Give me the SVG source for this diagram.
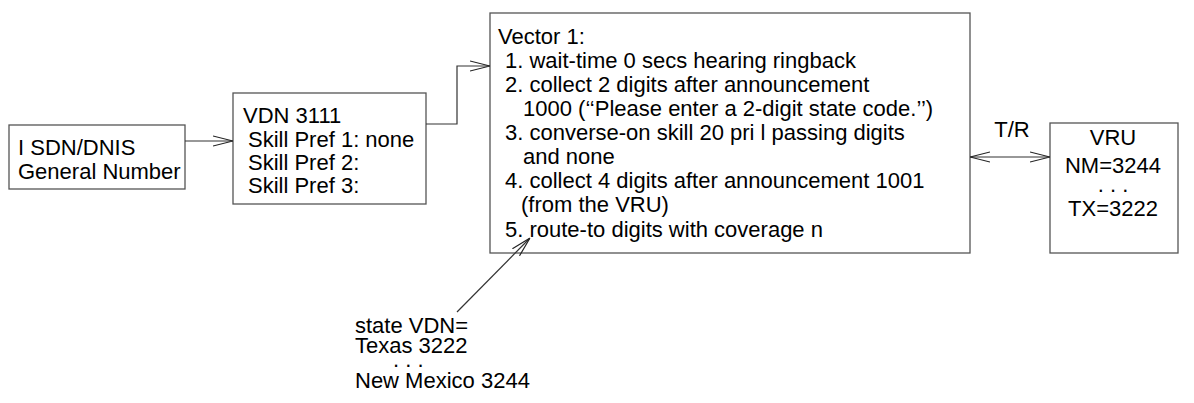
<svg xmlns="http://www.w3.org/2000/svg" width="1194" height="403" viewBox="0 0 1194 403">
<style>
  .box { fill: #ffffff; stroke: #555555; stroke-width: 1.3; }
  .t { font-family: "Liberation Sans", Arial, sans-serif; font-size: 22px; fill: #000000; }
  .c { fill: none; stroke: #333333; stroke-width: 1.2; }
  .ah { fill: none; stroke: #222222; stroke-width: 1.2; }
</style>
<defs>
  <marker id="open" viewBox="0 0 20 12" refX="20" refY="6" markerWidth="20" markerHeight="12" markerUnits="userSpaceOnUse" orient="auto-start-reverse">
    <path d="M0,1 L20,6 L0,11" fill="none" stroke="#222222" stroke-width="1.2"/>
  </marker>
</defs>
<rect width="1194" height="403" fill="#ffffff"/>

<g id="node-isdn">
  <rect class="box" x="9" y="125" width="176" height="64"/>
  <text class="t" x="18" y="155">I SDN/DNIS</text>
  <text class="t" x="18" y="179">General Number</text>
</g>

<g id="node-vdn">
  <rect class="box" x="233" y="93" width="193" height="111"/>
  <text class="t" x="243" y="123">VDN 3111</text>
  <text class="t" x="248" y="147">Skill Pref 1: none</text>
  <text class="t" x="248" y="170">Skill Pref 2:</text>
  <text class="t" x="248" y="193">Skill Pref 3:</text>
</g>

<g id="node-vector">
  <rect class="box" x="490" y="13" width="480" height="240"/>
  <text class="t" x="498" y="44">Vector 1:</text>
  <text class="t" x="505" y="68">1. wait-time 0 secs hearing ringback</text>
  <text class="t" x="505" y="92">2. collect 2 digits after announcement</text>
  <text class="t" x="523" y="116">1000 (‘‘Please enter a 2-digit state code.’’)</text>
  <text class="t" x="505" y="140">3. converse-on skill 20 pri l passing digits</text>
  <text class="t" x="523" y="164">and none</text>
  <text class="t" x="505" y="188">4. collect 4 digits after announcement 1001</text>
  <text class="t" x="521" y="212">(from the VRU)</text>
  <text class="t" x="505" y="237">5. route-to digits with coverage n</text>
</g>

<g id="node-vru">
  <rect class="box" x="1050" y="123" width="128" height="130"/>
  <text class="t" x="1113" y="145" text-anchor="middle">VRU</text>
  <text class="t" x="1113" y="173" text-anchor="middle">NM=3244</text>
  <text class="t" x="1113" y="192" text-anchor="middle">. . .</text>
  <text class="t" x="1113" y="216" text-anchor="middle">TX=3222</text>
</g>

<g id="note-state">
  <text class="t" x="355" y="333">state VDN=</text>
  <text class="t" x="355" y="353">Texas 3222</text>
  <text class="t" x="393" y="367">. . .</text>
  <text class="t" x="355" y="388">New Mexico 3244</text>
</g>

<g id="connectors">
  <line class="c" x1="185" y1="141" x2="233" y2="141" marker-end="url(#open)"/>
  <polyline class="c" points="426,124 457,124 457,66 490,66" marker-end="url(#open)"/>
  <line class="c" x1="970" y1="157" x2="1050" y2="157" marker-start="url(#open)" marker-end="url(#open)"/>
  <text class="t" x="1012" y="137" text-anchor="middle">T/R</text>
  <line class="c" x1="457" y1="312" x2="530" y2="238" marker-end="url(#open)"/>
</g>
</svg>
